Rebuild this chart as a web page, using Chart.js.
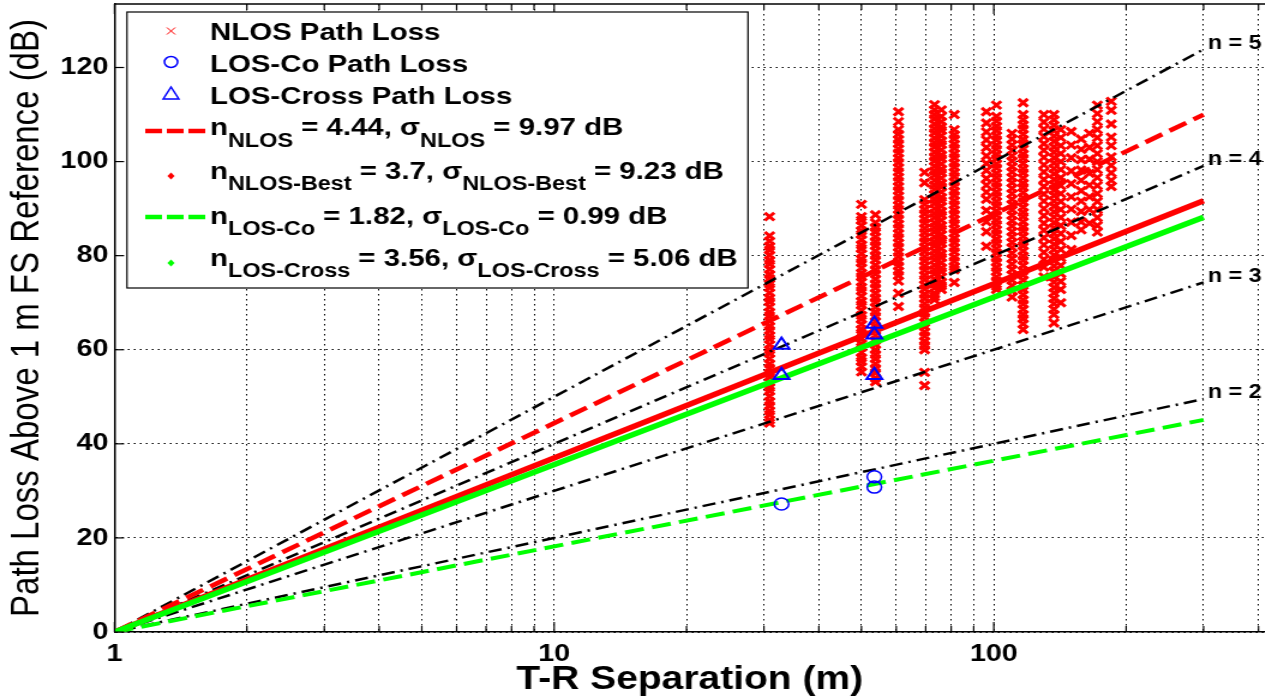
<!DOCTYPE html>
<html>
<head>
<meta charset="utf-8">
<script src="https://cdn.jsdelivr.net/npm/chart.js@4/dist/chart.umd.min.js"></script>
<style>
  html, body { margin: 0; padding: 0; background: #fff; overflow: hidden; }
  #wrap {
    position: absolute; left: 0; top: 0;
    width: 1054.17px; height: 700px;
    transform: scaleX(1.2); transform-origin: 0 0;
  }
</style>
</head>
<body>
<div id="wrap"><canvas id="c"></canvas></div>
<script>
// ---- Measured path loss (dB above 1 m free space) ----
// NLOS receiver locations (T-R separation, m) and the losses recorded at each one
const nlosDistances = [30.9, 50.0, 53.8, 60.7, 69.6, 73.3, 76.0, 81.3, 96.2, 101.4,
                       110, 116.6, 130, 137, 142, 150, 158, 165, 172, 185];
const nlosLoss = [
  [88.3, 84.2, 83.1, 82.0, 81.2, 80.1, 79.0, 78.2, 77.1, 76.0, 75.1, 74.0, 73.2, 72.1, 71.0, 70.2, 69.1, 68.0, 67.2, 66.1, 65.0, 64.1, 63.0, 62.2, 61.1, 60.0, 59.2, 58.1, 57.0, 56.1, 55.0, 54.2, 53.1, 52.0, 51.2, 50.1, 49.0, 48.1, 47.0, 46.2, 45.1, 44.4],
  [90.9, 88.3, 87.5, 86.4, 85.3, 84.5, 83.4, 82.3, 81.5, 80.4, 79.3, 78.5, 77.4, 76.3, 75.5, 74.4, 73.3, 72.5, 71.4, 70.3, 69.5, 68.4, 67.3, 66.5, 65.4, 64.3, 63.5, 62.4, 61.3, 60.5, 59.4, 58.3, 57.5, 56.4, 55.3],
  [88.7, 87.0, 86.0, 85.1, 84.0, 83.0, 82.1, 81.0, 80.0, 79.1, 78.0, 77.0, 76.1, 75.0, 74.0, 73.1, 72.0, 71.0, 70.1, 69.0, 68.0, 67.1, 66.0, 65.0, 64.1, 63.0, 62.0, 61.1, 60.0, 59.0, 58.1, 57.0, 56.0, 55.1, 54.0, 53.2],
  [110.6, 108.5, 106.8, 105.8, 104.7, 103.8, 102.7, 101.8, 100.7, 99.8, 98.7, 97.8, 96.7, 95.8, 94.7, 93.8, 92.7, 91.8, 90.7, 89.8, 88.7, 87.8, 86.7, 85.8, 84.7, 83.8, 82.7, 81.8, 80.7, 79.8, 78.7, 77.8, 76.7, 75.8, 74.6, 72.0, 69.2],
  [97.7, 95.5, 91.9, 90.9, 89.8, 88.9, 87.8, 86.9, 85.8, 84.9, 83.8, 82.9, 81.8, 80.9, 79.8, 78.9, 77.8, 76.9, 75.8, 74.9, 73.8, 72.9, 71.8, 70.9, 69.8, 68.9, 67.8, 66.9, 65.8, 64.9, 63.8, 62.9, 61.8, 60.9, 60.0, 55.2, 52.4],
  [112.1, 111.0, 110.0, 109.1, 108.0, 107.0, 106.1, 105.0, 104.0, 103.1, 102.0, 101.0, 100.1, 99.0, 98.0, 97.1, 96.0, 95.0, 94.1, 93.0, 92.0, 91.1, 90.0, 89.0, 88.1, 87.0, 86.0, 85.1, 84.0, 83.0, 82.1, 81.0, 80.0, 79.1, 78.0, 77.0, 76.1, 75.0, 74.0, 73.1, 72.0, 71.3, 70.6],
  [111.0, 109.6, 108.5, 107.4, 106.6, 105.5, 104.4, 103.6, 102.5, 101.4, 100.6, 99.5, 98.4, 97.6, 96.5, 95.4, 94.6, 93.5, 92.4, 91.6, 90.5, 89.4, 88.6, 87.5, 86.4, 85.6, 84.5, 83.4, 82.6, 81.5, 80.4, 79.6, 78.5, 77.4, 76.6, 75.5, 74.4, 73.6, 72.8],
  [110.0, 106.8, 105.7, 104.8, 103.7, 102.8, 101.7, 100.8, 99.7, 98.8, 97.7, 96.8, 95.7, 94.8, 93.7, 92.8, 91.7, 90.8, 89.7, 88.8, 87.7, 86.8, 85.7, 84.8, 83.7, 82.8, 81.7, 80.8, 79.7, 78.8, 77.7, 77.0, 74.3],
  [110.6, 108.2, 106.3, 104.6, 103.0, 101.2, 99.6, 98.1, 96.4, 95.0, 93.5, 92.0, 89.6, 87.2, 85.1, 82.0],
  [112.0, 109.6, 108.6, 107.5, 106.6, 105.5, 104.6, 103.5, 102.6, 101.5, 100.6, 99.5, 98.6, 97.5, 96.6, 95.5, 94.6, 93.5, 92.6, 91.5, 90.6, 89.5, 88.6, 87.5, 86.6, 85.5, 84.6, 83.5, 82.6, 81.5, 80.6, 79.5, 78.6, 77.5, 76.6, 75.5, 74.6, 73.5, 72.8],
  [106.0, 104.8, 103.5, 102.4, 101.2, 100.1, 98.9, 97.8, 96.6, 95.5, 94.3, 93.2, 92.0, 90.9, 89.7, 88.6, 87.4, 86.3, 85.1, 84.0, 82.8, 81.7, 80.5, 79.4, 78.2, 77.1, 75.9, 74.8, 73.6, 72.5, 71.2],
  [112.5, 110.0, 108.9, 107.8, 106.9, 105.8, 104.7, 103.8, 102.7, 101.6, 100.7, 99.6, 98.5, 97.6, 96.5, 95.4, 94.5, 93.4, 92.3, 91.4, 90.3, 89.2, 88.3, 87.2, 86.1, 85.2, 84.1, 83.0, 82.1, 81.0, 79.9, 79.0, 77.9, 76.8, 75.9, 74.8, 73.7, 72.8, 71.7, 70.6, 69.7, 68.6, 67.5, 66.6, 65.5, 64.3],
  [110.0, 108.4, 106.9, 105.3, 103.8, 102.4, 100.9, 99.3, 97.8, 96.2, 94.7, 93.1, 91.6, 90.0, 88.5, 86.9, 85.4, 83.8, 82.3, 80.7, 79.2, 77.6, 75.5],
  [110.0, 108.9, 107.7, 106.6, 105.4, 104.3, 103.1, 102.0, 100.8, 99.7, 98.5, 97.4, 96.2, 95.1, 93.9, 92.8, 91.6, 90.5, 89.3, 88.2, 87.0, 85.9, 84.7, 83.6, 82.4, 81.3, 80.1, 79.0, 77.8, 76.7, 75.5, 74.4, 73.2, 72.1, 70.9, 69.8, 68.6, 67.5, 65.7],
  [106.8, 105.1, 103.4, 101.7, 100.0, 98.3, 96.6, 94.9, 93.2, 91.5, 89.8, 88.1, 86.4, 84.7, 83.0, 81.3, 79.6, 77.9, 76.2, 74.5, 72.8, 70.0],
  [106.4, 103.5, 100.8, 98.0, 95.3, 92.5, 89.9, 87.1, 84.3, 81.3],
  [104.8, 102.6, 100.4, 98.2, 96.0, 93.8, 91.6, 89.4, 87.2, 85.5],
  [106.0, 103.0, 100.5, 97.5, 95.0, 92.5, 89.8, 86.9],
  [112.0, 110.2, 108.5, 106.8, 105.1, 103.4, 101.7, 100.0, 98.3, 96.6, 94.9, 93.2, 91.5, 89.8, 88.1, 86.4, 85.0],
  [112.8, 110.9, 108.0, 105.2, 103.4, 101.0, 99.2, 97.6, 96.0, 94.7]
];

// LOS co-polarized and cross-polarized measurements
const losCoDistances = [32.9, 53.5, 53.5];
const losCoLoss = [27.2, 33.0, 30.8];
const losCrossDistances = [32.9, 32.9, 53.5, 53.5, 53.5];
const losCrossLoss = [61.0, 54.6, 65.5, 63.2, 54.6];

// Fitted path loss exponents and shadowing std. deviations (dB)
const nNLOS = 4.44, sigmaNLOS = 9.97;
const nNLOSBest = 3.7, sigmaNLOSBest = 9.23;
const nLOSCo = 1.82, sigmaLOSCo = 0.99;
const nLOSCross = 3.56, sigmaLOSCross = 5.06;

// Reference exponents and the distance span of all model lines
const referenceExponents = [2, 3, 4, 5];
const lineDistances = [1, 300];

// Axis ticks
const xTickValues = [1, 2, 3, 4, 5, 6, 7, 8, 9, 10, 20, 30, 40, 50, 60, 70, 80, 90, 100, 200, 300, 400];
const xTickLabels = [1, 10, 100];
const yTickValues = [0, 20, 40, 60, 80, 100, 120];

const FONT = '"Liberation Sans", Arial, Helvetica, sans-serif';
const RED = '#ff0000', GREEN = '#00ff00', BLUE = '#0000ff';

// PL(d) = 10 n log10(d), straight on a log-distance axis
const modelLine = n => lineDistances.map(d => ({ x: d, y: 10 * n * Math.log10(d) }));

const nlosPoints = [];
nlosDistances.forEach((d, i) => nlosLoss[i].forEach(v => nlosPoints.push({ x: d, y: v })));
const losCoPoints = losCoDistances.map((d, i) => ({ x: d, y: losCoLoss[i] }));
const losCrossPoints = losCrossDistances.map((d, i) => ({ x: d, y: losCrossLoss[i] }));

const fitLine = (n, color, width, dash) => ({
  data: modelLine(n), showLine: true, pointRadius: 0, borderColor: color,
  borderWidth: width, borderDash: dash, fill: false
});

const datasets = [
  { data: losCrossPoints, pointStyle: 'triangle', pointRadius: 7.5, pointBorderWidth: 2,
    pointBorderColor: BLUE, pointBackgroundColor: 'rgba(0,0,0,0)' },
  { data: losCoPoints, pointStyle: 'circle', pointRadius: 6, pointBorderWidth: 1.5,
    pointBorderColor: BLUE, pointBackgroundColor: 'rgba(0,0,0,0)' },
  fitLine(nLOSCross, GREEN, 5.5, []),
  fitLine(nNLOSBest, RED, 5.5, []),
  fitLine(nLOSCo, GREEN, 4, [16, 7]),
  fitLine(nNLOS, RED, 4.5, [16, 7]),
  ...referenceExponents.map(n => fitLine(n, '#000', 2.5, [11, 5, 2, 5])),
  { data: nlosPoints, pointStyle: 'crossRot', pointRadius: 5.5, pointBorderWidth: 3,
    pointBorderColor: RED, pointBackgroundColor: RED }
];

function line(ctx, x1, y1, x2, y2) {
  ctx.beginPath(); ctx.moveTo(x1, y1); ctx.lineTo(x2, y2); ctx.stroke();
}

// Inward tick marks, top frame and n = k labels at the end of the reference lines
const framePlugin = {
  id: 'frame',
  afterDatasetsDraw(chart) {
    const { ctx, chartArea: a, scales: { x, y } } = chart;
    ctx.save();
    ctx.strokeStyle = '#000';
    ctx.lineWidth = 1.2;
    xTickValues.forEach(v => {
      const px = x.getPixelForValue(v);
      const len = xTickLabels.includes(v) ? 10 : 6;
      line(ctx, px, a.bottom, px, a.bottom - len);
      line(ctx, px, a.top, px, a.top + len);
    });
    yTickValues.forEach(v => {
      const py = y.getPixelForValue(v);
      line(ctx, a.left, py, a.left + 8, py);
    });
    ctx.lineWidth = 1.5;
    line(ctx, a.left, a.top, a.right, a.top);

    ctx.fillStyle = '#000';
    ctx.font = 'bold 19.5px ' + FONT;
    ctx.textBaseline = 'middle';
    ctx.textAlign = 'left';
    const dEnd = lineDistances[lineDistances.length - 1];
    referenceExponents.forEach(n => {
      const px = x.getPixelForValue(dEnd) + 3.5;
      const py = y.getPixelForValue(10 * n * Math.log10(dEnd)) - 6;
      ctx.fillText('n = ' + n, px, py);
    });
    ctx.restore();
  }
};

// Legend with subscripted labels
const legendPlugin = {
  id: 'richLegend',
  afterDraw(chart) {
    const ctx = chart.ctx;
    const box = { x: 105.8, y: 12, w: 517.5, h: 276 };
    const mx = 142.5, sx1 = 121, sx2 = 171, tx = 175;
    const mainFont = 'bold 24.5px ' + FONT, subFont = 'bold 19.5px ' + FONT;
    ctx.save();
    ctx.fillStyle = '#fff';
    ctx.fillRect(box.x, box.y, box.w, box.h);
    ctx.strokeStyle = '#000';
    ctx.lineWidth = 1.2;
    ctx.strokeRect(box.x, box.y, box.w, box.h);

    const rich = (parts, base, subBase) => {
      let cx = tx;
      ctx.fillStyle = '#000';
      ctx.textBaseline = 'alphabetic';
      parts.forEach(([t, sub]) => {
        ctx.font = sub ? subFont : mainFont;
        ctx.fillText(t, cx, sub ? subBase : base);
        cx += ctx.measureText(t).width;
      });
    };
    const swatch = (yy, color, width) => {
      ctx.save();
      ctx.strokeStyle = color; ctx.lineWidth = width; ctx.setLineDash([14, 4]);
      line(ctx, sx1, yy, sx2, yy);
      ctx.restore();
    };
    const dot = (yy, color) => {
      ctx.save();
      ctx.fillStyle = color;
      ctx.beginPath();
      ctx.moveTo(mx, yy - 3.5); ctx.lineTo(mx + 3, yy); ctx.lineTo(mx, yy + 3.5); ctx.lineTo(mx - 3, yy);
      ctx.closePath(); ctx.fill();
      ctx.restore();
    };

    // NLOS marker
    ctx.strokeStyle = RED; ctx.lineWidth = 1;
    line(ctx, mx - 3.5, 27.5, mx + 3.5, 34.5);
    line(ctx, mx - 3.5, 34.5, mx + 3.5, 27.5);
    rich([['NLOS Path Loss', 0]], 40, 40);
    // LOS-Co marker
    ctx.strokeStyle = BLUE; ctx.lineWidth = 1.5;
    ctx.beginPath(); ctx.arc(mx, 62, 5.5, 0, Math.PI * 2); ctx.stroke();
    rich([['LOS-Co Path Loss', 0]], 72, 72);
    // LOS-Cross marker
    ctx.beginPath();
    ctx.moveTo(mx, 87); ctx.lineTo(mx + 6.5, 99); ctx.lineTo(mx - 6.5, 99); ctx.closePath();
    ctx.stroke();
    rich([['LOS-Cross Path Loss', 0]], 104, 104);

    swatch(131, RED, 4.5);
    rich([['n', 0], ['NLOS', 1], [' = ' + nNLOS + ', ', 0], ['\u03c3', 0], ['NLOS', 1],
          [' = ' + sigmaNLOS.toFixed(2) + ' dB', 0]], 135, 147);
    dot(176, RED);
    rich([['n', 0], ['NLOS-Best', 1], [' = ' + nNLOSBest + ', ', 0], ['\u03c3', 0], ['NLOS-Best', 1],
          [' = ' + sigmaNLOSBest.toFixed(2) + ' dB', 0]], 179, 190);
    swatch(217, GREEN, 4.5);
    rich([['n', 0], ['LOS-Co', 1], [' = ' + nLOSCo + ', ', 0], ['\u03c3', 0], ['LOS-Co', 1],
          [' = ' + sigmaLOSCo.toFixed(2) + ' dB', 0]], 224, 235);
    dot(263, GREEN);
    rich([['n', 0], ['LOS-Cross', 1], [' = ' + nLOSCross + ', ', 0], ['\u03c3', 0], ['LOS-Cross', 1],
          [' = ' + sigmaLOSCross.toFixed(2) + ' dB', 0]], 266, 277);
    ctx.restore();
  }
};

new Chart(document.getElementById('c'), {
  type: 'scatter',
  data: { datasets },
  options: {
    responsive: true,
    maintainAspectRatio: false,
    animation: false,
    events: [],
    layout: { autoPadding: false, padding: { top: 4, right: 0, left: 0, bottom: 0 } },
    plugins: { legend: { display: false }, tooltip: { enabled: false } },
    scales: {
      x: {
        type: 'logarithmic', position: 'bottom', min: 1, max: 414,
        afterBuildTicks: s => { s.ticks = xTickValues.map(v => ({ value: v })); },
        afterFit: s => { s.height = 68; s.paddingLeft = 0; s.paddingRight = 0; },
        ticks: {
          autoSkip: false, maxRotation: 0, padding: 8, color: '#000',
          font: { family: FONT, size: 24, weight: 'bold' },
          callback: v => (xTickLabels.includes(v) ? String(v) : '')
        },
        grid: { color: '#000', lineWidth: 1, drawTicks: false },
        border: { display: true, color: '#000', width: 1.5, dash: [1.5, 3.5] },
        title: {
          display: true, text: 'T-R Separation (m)', color: '#000',
          font: { family: FONT, size: 32.5, weight: 'bold', lineHeight: 1.2 },
          padding: { top: 0, bottom: 0 }
        }
      },
      y: {
        type: 'linear', min: 0, max: 133.5,
        afterBuildTicks: s => { s.ticks = yTickValues.map(v => ({ value: v })); },
        afterFit: s => { s.width = 95.4; s.paddingTop = 0; s.paddingBottom = 0; },
        ticks: {
          padding: 5, color: '#000',
          font: { family: FONT, size: 24, weight: 'bold' }
        },
        grid: { color: '#000', lineWidth: 1, drawTicks: false },
        border: { display: true, color: '#000', width: 1.5, dash: [1.5, 3.5] },
        title: {
          display: true, text: 'Path Loss Above 1 m FS Reference (dB)', color: '#000',
          font: { family: FONT, size: 33, weight: 'normal', lineHeight: 1.2 },
          padding: { top: 3, bottom: 0 }
        }
      }
    }
  },
  plugins: [framePlugin, legendPlugin]
});
</script>
</body>
</html>
